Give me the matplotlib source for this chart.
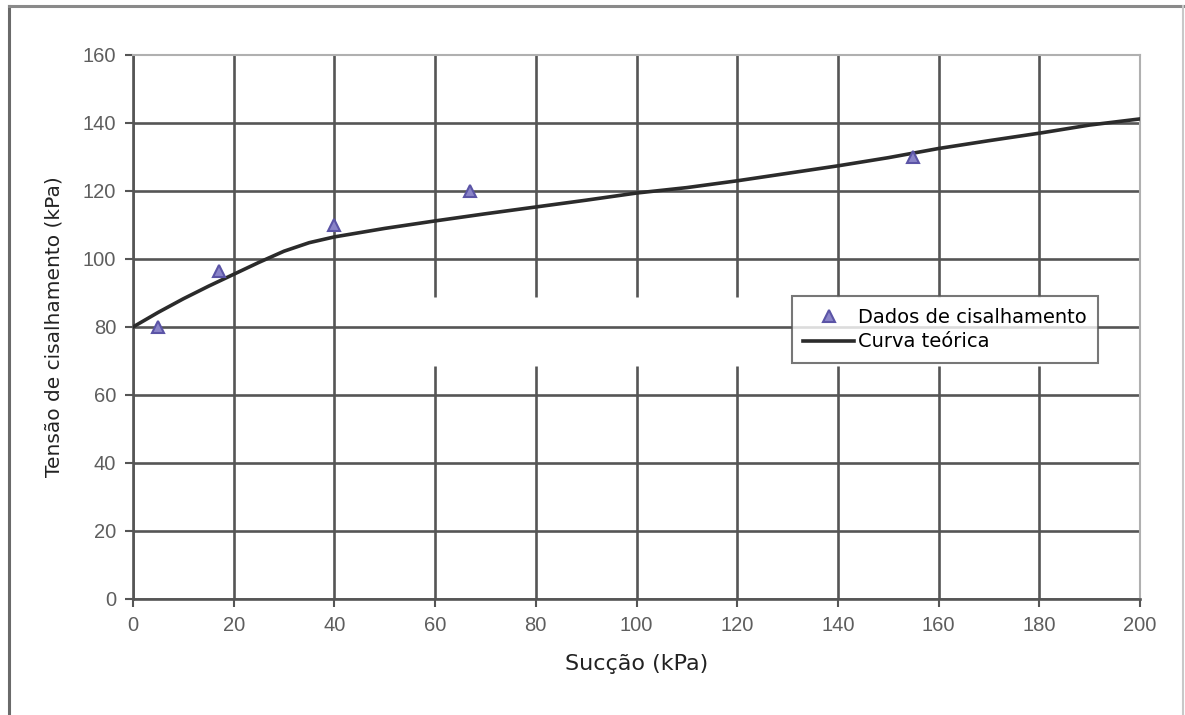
import matplotlib.pyplot as plt
from matplotlib.lines import Line2D

# measured points
succao = [5, 17, 40, 67, 155]
tensao = [80, 96.5, 110, 120, 130]

# theoretical curve
curva_x = [0, 5, 10, 15, 20, 25, 30, 35, 40, 50, 60, 70, 80, 90, 100,
           110, 120, 130, 140, 150, 160, 170, 180, 190, 200]
curva_y = [80, 84.3, 88.3, 92, 95.5, 99, 102.3, 104.8, 106.5, 109, 111.2,
           113.3, 115.3, 117.3, 119.4, 121, 123, 125.2, 127.4, 129.8,
           132.5, 134.8, 137, 139.4, 141.2]

xticks = list(range(0, 201, 20))
yticks = list(range(0, 161, 20))

fig = plt.figure(figsize=(11.85, 7.15), dpi=100)
ax = fig.add_axes([133/1185, 1-599/715, (1140-133)/1185, (599-55)/715])

grid_c = '#555555'
# horizontal grid
for y in yticks[:-1]:
    ax.axhline(y, color=grid_c, lw=1.9, zorder=1)
# vertical grid (lines from 60 on have a gap in the source image)
for x in xticks[:-1]:
    if x >= 60:
        ax.vlines(x, 0, 68.5, color=grid_c, lw=1.9, zorder=1)
        ax.vlines(x, 88.9, 160, color=grid_c, lw=1.9, zorder=1)
    else:
        ax.vlines(x, 0, 160, color=grid_c, lw=1.9, zorder=1)

ax.plot(curva_x, curva_y, color='#2b2b2b', lw=2.6, zorder=3, label='Curva teórica')
ax.plot(succao, tensao, ls='none', marker='^', ms=8, mfc='#8a84c8', mec='#5b54a6',
        mew=1.5, zorder=4, label='Dados de cisalhamento')

ax.set_xlim(0, 200)
ax.set_ylim(0, 160)
ax.set_xticks(xticks)
ax.set_yticks(yticks)
for s in ['left', 'bottom']:
    ax.spines[s].set_color(grid_c)
    ax.spines[s].set_linewidth(1.9)
for s in ['top', 'right']:
    ax.spines[s].set_color('#b0b0b0')
    ax.spines[s].set_linewidth(1.5)
ax.tick_params(axis='both', direction='out', length=6, width=1.5, color=grid_c,
               labelcolor='#5e5e5e', labelsize=14.5, pad=6,
               labelfontfamily='Liberation Sans')

ax.set_xlabel('Sucção (kPa)', fontsize=16, color='#222222', labelpad=14)
ax.set_ylabel('Tensão de cisalhamento (kPa)', fontsize=14.5, color='#222222', labelpad=14)

h, l = ax.get_legend_handles_labels()
leg = ax.legend(h[::-1], l[::-1], loc='upper left', bbox_to_anchor=(0.654, 0.557),
                fontsize=14, frameon=True, fancybox=False, handlelength=2.6,
                handletextpad=0.2, labelspacing=0.3, borderpad=0.6,
                borderaxespad=0)
leg.get_frame().set_edgecolor('#555555')
leg.get_frame().set_linewidth(1.5)
leg.set_zorder(5)

# outer frame of the image
fig.add_artist(Line2D([9/1185, 9/1185], [0, 1-6/715], color='#6a6a6a', lw=2.2))
fig.add_artist(Line2D([9/1185, 1183/1185], [1-6/715, 1-6/715], color='#8a8a8a', lw=2.2))
fig.add_artist(Line2D([1183/1185, 1183/1185], [0, 1-6/715], color='#c8c8c8', lw=1.5))

fig.savefig('out.png', dpi=100)
